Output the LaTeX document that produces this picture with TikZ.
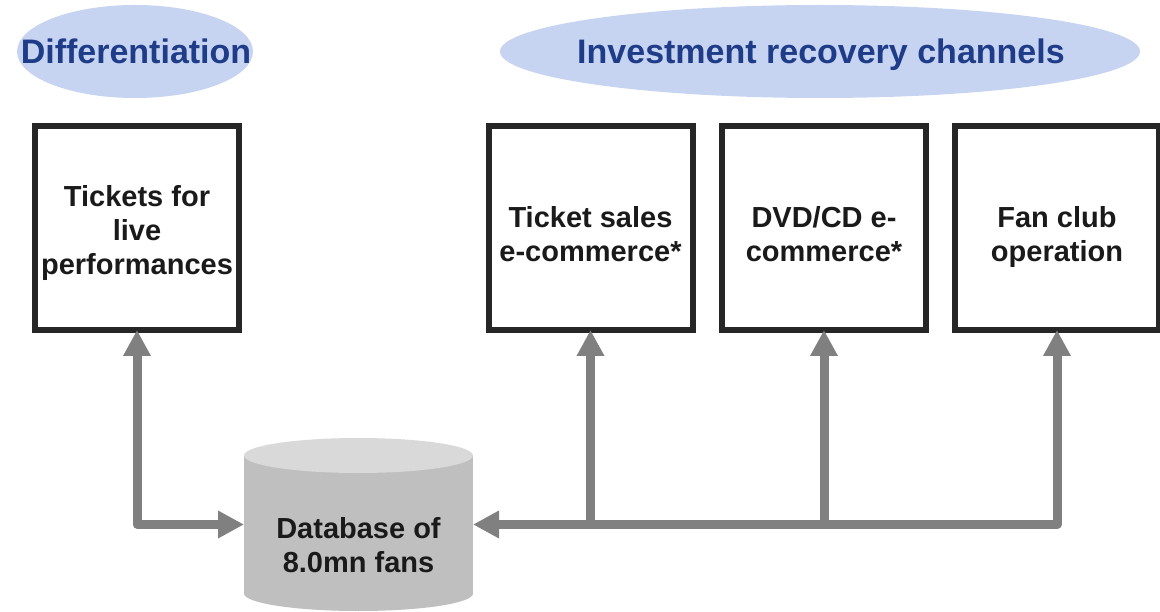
\documentclass[tikz,border=0pt]{standalone}
\usepackage{fontspec}
\setmainfont{Liberation Sans}
\usetikzlibrary{arrows.meta,shapes.geometric}

\definecolor{hdrfill}{HTML}{C6D4F2}
\definecolor{hdrink}{HTML}{1F3C88}
\definecolor{boxline}{HTML}{262626}
\definecolor{ink}{HTML}{1A1A1A}
\definecolor{linkgray}{HTML}{808080}
\definecolor{dbbody}{HTML}{BFBFBF}
\definecolor{dbtop}{HTML}{D9D9D9}

\begin{document}
\begin{tikzpicture}[x=1pt,y=-1pt,
  hdrshape/.style={ellipse, fill=hdrfill, inner sep=0pt, outer sep=0pt},
  hdrlabel/.style={font=\bfseries\fontsize{34}{40}\selectfont, text=hdrink,
    inner sep=0pt, text height=24.5pt, text depth=0pt},
  channel/.style={draw=boxline, fill=white, line width=6pt, inner sep=0pt,
    outer sep=0pt, minimum width=204pt, minimum height=204pt},
  chtext/.style={font=\bfseries\fontsize{29}{34}\selectfont, text=ink,
    align=center, inner sep=0pt},
  link/.style={draw=linkgray, line width=9pt, line join=round,
    >={Triangle[length=26pt,width=26pt]}},
  placeholder/.style={inner sep=0pt, outer sep=0pt}
]
\useasboundingbox (0,0) rectangle (1160,612);
\clip (0,0) rectangle (1160,612);

% headings
\node[hdrshape, minimum width=236pt, minimum height=93pt] (e1) at (135,51.5) {};
\node[hdrlabel] (h1) at (136,51.5) {Differentiation};
\node[hdrshape, minimum width=640pt, minimum height=93pt] (e2) at (820,51.5) {};
\node[hdrlabel] (h2) at (821,51.5) {Investment recovery channels};

% fan database cylinder
\fill[dbbody] (244,455.5) rectangle (473,593.5);
\fill[dbbody] (358.5,593.5) ellipse [x radius=114.5, y radius=17.5];
\fill[dbtop] (358.5,455.5) ellipse [x radius=114.5, y radius=17.5];
\node[placeholder, minimum width=229pt, minimum height=173pt] (db) at (358.5,524.5) {};
\node[chtext] (dbt) at (358.5,545.5) {Database of\\8.0mn fans};

% channel boxes
\node[channel] (b1) at (137,228) {};
\node[channel] (b2) at (590.5,228) {};
\node[channel] (b3) at (824,228) {};
\node[channel] (b4) at (1057,228) {};

\node[chtext] (t1) at (137,233.5) {Tickets for\\live\\performances};
\node[chtext] (t2) at (590.5,234.5) {Ticket sales\\e-commerce*};
\node[chtext] (t3) at (824,234.5) {DVD/CD e-\\commerce*};
\node[chtext] (t4) at (1057,237.5) {Fan club\\operation};

% connectors
\draw[link,<->] (b1.south) |- (db.west);
\draw[link,<->] (db.east) -| (b4.south);
\draw[link,->] (b2.south |- db.east) -- (b2.south);
\draw[link,->] (b3.south |- db.east) -- (b3.south);
\end{tikzpicture}
\end{document}
